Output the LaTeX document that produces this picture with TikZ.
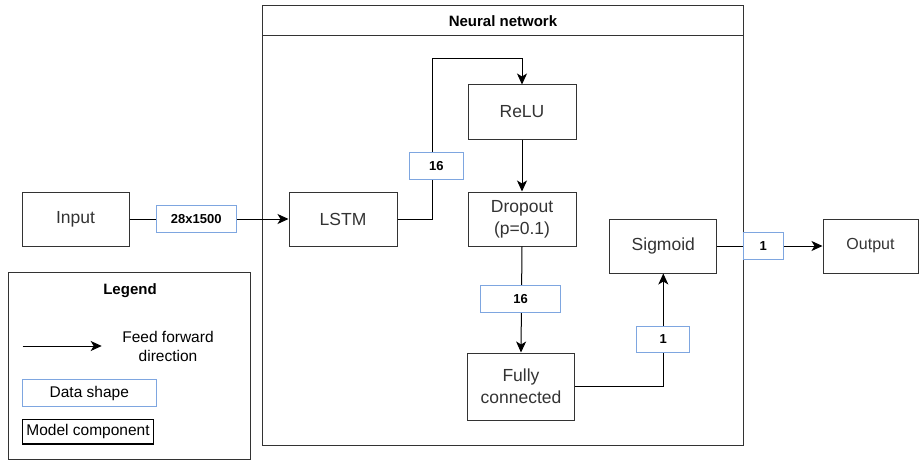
\documentclass[tikz,border=0pt]{standalone}
\usepackage{fontspec}
\setmainfont{Liberation Sans}
\usetikzlibrary{arrows.meta,calc}
\definecolor{lblue}{HTML}{7EA6E0}
\definecolor{ink}{HTML}{333333}
\tikzset{
  comp/.style={draw=ink, line width=1pt, text=ink, align=center, inner sep=0pt,
    font=\fontsize{17.5}{22}\selectfont},
  dshape/.style={draw=lblue, line width=1pt, fill=white, text=black, inner sep=0pt,
    font=\bfseries\fontsize{13}{15}\selectfont},
  arr/.style={draw=black, line width=1pt, -{Stealth[length=11pt,width=10pt,inset=3pt]}},
  conn/.style={draw=black, line width=1pt},
  legtxt/.style={text=black, inner sep=0pt, align=center, font=\fontsize{15.5}{19}\selectfont},
  frame/.style={draw=ink, line width=1pt}
}
\begin{document}
\begin{tikzpicture}[x=1pt,y=-1pt]
\useasboundingbox (0,0) rectangle (919,460);
% Neural network frame
\draw[frame] (262.5,5.5) rectangle (743.5,445.5);
\coordinate (nnl) at (262.5,36);
\coordinate (nnr) at (743.5,36);
\draw[frame] (nnl) -- (nnr);
\node[inner sep=0pt, font=\bfseries\fontsize{15}{18}\selectfont, text=black] (nntitle) at (503,21) {Neural network};
% Components
\node[comp, minimum width=107pt, minimum height=54pt] (input) at (75.5,219) {Input};
\node[comp, minimum width=108pt, minimum height=54pt] (lstm) at (343,219) {LSTM};
\node[comp, minimum width=108pt, minimum height=54pt] (relu) at (522,112) {ReLU};
\node[comp, minimum width=108pt, minimum height=54pt] (drop) at (522,219) {Dropout\\(p=0.1)};
\node[comp, minimum width=107pt, minimum height=67pt] (fc) at (521,386.5) {Fully\\connected};
\node[comp, minimum width=107pt, minimum height=54pt] (sig) at (663.3,246) {Sigmoid};
\node[comp, minimum width=95pt, minimum height=54pt, font=\fontsize{16}{20}\selectfont] (out) at (870.5,246) {Output};
% Connectors
\draw[arr] (input.east) -- (lstm.west);
\coordinate (c1) at (432.3,219);
\coordinate (c2) at (432.3,59);
\coordinate (c3) at (522,59);
\draw[arr] (lstm.east) -- (c1) -- (c2) -- (c3) -- (relu.north);
\draw[arr] (relu.south) -- (drop.north);
\draw[arr] (drop.south) -- (fc.north);
\draw[arr] (fc.east) -| (sig.south);
\draw[arr] (sig.east) -- (out.west);
% Data shape labels
\node[dshape, minimum width=80pt, minimum height=27pt] (d1) at (196.3,219.2) {28x1500};
\node[dshape, minimum width=54pt, minimum height=26.5pt] (d2) at (436.3,165.8) {16};
\node[dshape, minimum width=80pt, minimum height=27pt] (d3) at (520.7,299.2) {16};
\node[dshape, minimum width=53pt, minimum height=26.5pt] (d4) at (663.3,339.4) {1};
\node[dshape, minimum width=40pt, minimum height=26.5pt] (d5) at (763.3,245.9) {1};
% Legend
\draw[frame] (8.5,272.5) rectangle (250,459);
\node[inner sep=0pt, font=\bfseries\fontsize{15}{18}\selectfont, text=black] (legtitle) at (130,290.5) {Legend};
\coordinate (la) at (22.7,346);
\coordinate (lb) at (101.7,346);
\draw[arr] (la) -- (lb);
\node[legtxt] (fftxt) at (168,346) {Feed forward\\direction};
\node[draw=lblue, line width=1pt, legtxt, minimum width=133.5pt, minimum height=26.7pt] (lds) at (89.3,393.3) {Data shape};
\node[draw=black, line width=1.2pt, legtxt, minimum width=130.6pt, minimum height=24.7pt] (lmc) at (88,431.7) {Model component};
\end{tikzpicture}
\end{document}
